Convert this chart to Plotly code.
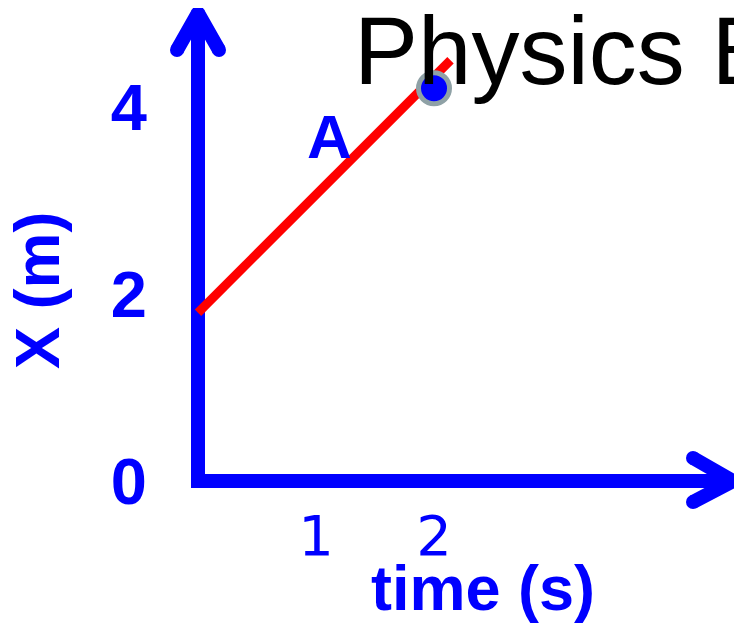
import plotly.graph_objects as go

# position-time data
time_line = [0, 2.14]
pos_line = [1.8, 4.5]
time_point = [2]
pos_point = [4.2]

x_ticks = [1, 2]
x_tick_text = ["1", "2"]
y_ticks = [0, 2, 4]
y_tick_text = ["0", "2", "4"]

BLUE = "#0000FF"
RED = "#FF0000"
W, H = 742, 630
OFF = 8  # page body margin in front of the figure
# pixel scale of the drawing, page pixels (origin at 198, 481)
PX_X, PX_Y = 118.0, 93.5
X0, Y0 = 198, 481


def px_to_x(px):
    return (px - X0) / PX_X


def px_to_y(py):
    return (Y0 - py) / PX_Y


def paper_x(px):
    return (px - OFF) / W


def paper_y(py):
    return 1 - (py - OFF) / H


fig = go.Figure()

# axis arrows
x_tip, y_tip = px_to_x(733), px_to_y(13)
fig.add_trace(go.Scatter(x=[px_to_x(191), x_tip], y=[0, 0], mode="lines",
                         line=dict(color=BLUE, width=14), hoverinfo="skip"))
fig.add_trace(go.Scatter(x=[0, 0], y=[px_to_y(488), y_tip], mode="lines",
                         line=dict(color=BLUE, width=14), hoverinfo="skip"))
fig.add_trace(go.Scatter(x=[px_to_x(693), x_tip, px_to_x(693)],
                         y=[px_to_y(458), 0, px_to_y(502)], mode="lines+markers",
                         line=dict(color=BLUE, width=14),
                         marker=dict(color=BLUE, size=14), hoverinfo="skip"))
fig.add_trace(go.Scatter(x=[px_to_x(177), 0, px_to_x(219)],
                         y=[px_to_y(50), y_tip, px_to_y(50)], mode="lines+markers",
                         line=dict(color=BLUE, width=14),
                         marker=dict(color=BLUE, size=14), hoverinfo="skip"))

# motion A
fig.add_trace(go.Scatter(x=time_line, y=pos_line, mode="lines",
                         line=dict(color=RED, width=9)))
fig.add_trace(go.Scatter(x=time_point, y=pos_point, mode="markers",
                         marker=dict(color=BLUE, size=31,
                                     line=dict(color="#8FA1A6", width=5))))

bold = "Liberation Sans, Arial, sans-serif"
fig.add_annotation(x=px_to_x(329), y=px_to_y(136), text="<b>A</b>", showarrow=False,
                   xanchor="center", yanchor="middle",
                   font=dict(family=bold, size=62, color=BLUE))
fig.add_annotation(x=paper_x(483), y=paper_y(588), xref="paper", yref="paper",
                   text="<b>time (s)</b>", showarrow=False,
                   xanchor="center", yanchor="middle",
                   font=dict(family=bold, size=63, color=BLUE))
fig.add_annotation(x=paper_x(37), y=paper_y(290), xref="paper", yref="paper",
                   text="<b>X (m)</b>", showarrow=False, textangle=-90,
                   xanchor="center", yanchor="middle",
                   font=dict(family=bold, size=63, color=BLUE))
fig.add_annotation(x=paper_x(352), y=paper_y(51), xref="paper", yref="paper",
                   text="Physics B", showarrow=False,
                   xanchor="left", yanchor="middle",
                   font=dict(family=bold, size=96, color="black"))

fig.update_layout(
    width=W, height=H, autosize=False, showlegend=False,
    template="none",
    margin=dict(l=0, r=0, t=0, b=0),
    paper_bgcolor="white", plot_bgcolor="white",
    xaxis=dict(range=[px_to_x(OFF), px_to_x(OFF + W)], showgrid=False, zeroline=False,
               showline=False, ticks="", tickvals=x_ticks, ticktext=x_tick_text,
               tickfont=dict(family="DejaVu Sans", size=56, color=BLUE),
               anchor="free", position=paper_y(Y0), ticklabelstandoff=17,
               automargin=False, fixedrange=True),
    yaxis=dict(range=[px_to_y(OFF + H), px_to_y(OFF)], showgrid=False, zeroline=False,
               showline=False, ticks="", tickvals=y_ticks, ticktext=y_tick_text,
               tickfont=dict(family=bold, size=65, color=BLUE, weight="bold"),
               anchor="free", position=paper_x(X0), ticklabelstandoff=51,
               automargin=False, fixedrange=True),
)

fig.write_html("out.html")
